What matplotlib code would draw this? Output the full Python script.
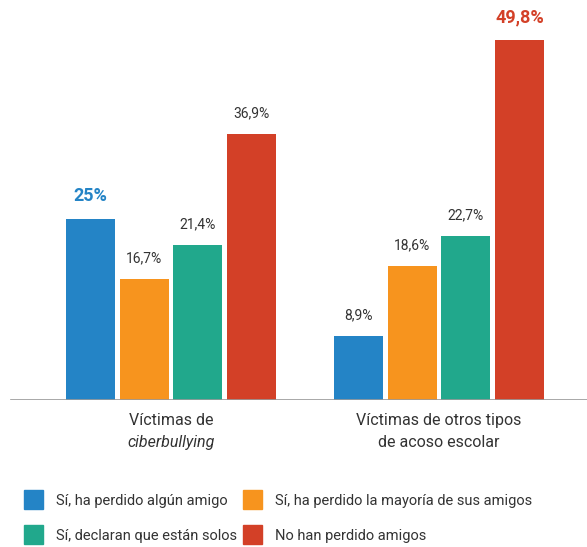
import matplotlib.pyplot as plt
import numpy as np
from matplotlib.patches import Rectangle

plt.rcParams['font.family'] = ['Roboto', 'DejaVu Sans']

# percentages per group, one list per answer
group_line1 = ['Víctimas de', 'Víctimas de otros tipos']
group_line2 = ['ciberbullying', 'de acoso escolar']
group_line2_style = ['italic', 'normal']
series = ['Sí, ha perdido algún amigo', 'Sí, ha perdido la mayoría de sus amigos',
          'Sí, declaran que están solos', 'No han perdido amigos']
perdido_alguno = [25.0, 8.9]
perdido_mayoria = [16.7, 18.6]
estan_solos = [21.4, 22.7]
no_perdido = [36.9, 49.8]
value_labels = [['25%', '8,9%'], ['16,7%', '18,6%'], ['21,4%', '22,7%'], ['36,9%', '49,8%']]
highlight = [(0, 0), (3, 1)]  # (serie, grupo) shown in bold

colors = ['#2484C6', '#F7941E', '#21A88C', '#D34027']
values = [perdido_alguno, perdido_mayoria, estan_solos, no_perdido]

fig = plt.figure(figsize=(5.87, 5.47), dpi=100)
ax = fig.add_axes([0, 147 / 547, 1, 400 / 547])

centers = np.array([0.0, 5.0])
offsets = [-1.5, -0.5, 0.5, 1.5]
for i, (vals, col) in enumerate(zip(values, colors)):
    xs = centers + offsets[i]
    ax.bar(xs, vals, width=0.91, color=col)
    for j, (x, v) in enumerate(zip(xs, vals)):
        if (i, j) in highlight:
            ax.text(x, v + 2.0, value_labels[i][j], ha='center', va='bottom',
                    fontsize=13, fontweight='bold', color=col)
        else:
            ax.text(x, v + 1.9, value_labels[i][j], ha='center', va='bottom',
                    fontsize=10, color='#333333')

ax.set_xlim(-171 / 53.6, (587 - 171) / 53.6)
ax.set_ylim(0, 55.4)
ax.axhline(0, xmin=11 / 587, xmax=1, color='#9a9a9a', lw=1.2)
ax.axis('off')

# group names below the baseline
for c, l1, l2, st in zip(centers, group_line1, group_line2, group_line2_style):
    ax.text(c, -2.9, l1, ha='center', va='center', fontsize=11.5, color='#333333')
    ax.text(c, -5.95, l2, ha='center', va='center', fontsize=11.5, color='#333333',
            style=st)

# legend in two columns
legend_pos = [(24, 490), (243, 490), (24, 525), (243, 525)]
for (px, py), col, name in zip(legend_pos, colors, series):
    fig.add_artist(Rectangle((px / 587, 1 - (py + 19) / 547), 19 / 587, 19 / 547,
                             transform=fig.transFigure, color=col))
    fig.text((px + 32) / 587, 1 - (py + 11) / 547, name, ha='left', va='center',
             fontsize=10.5, color='#333333')

fig.savefig('out.png', dpi=100)
